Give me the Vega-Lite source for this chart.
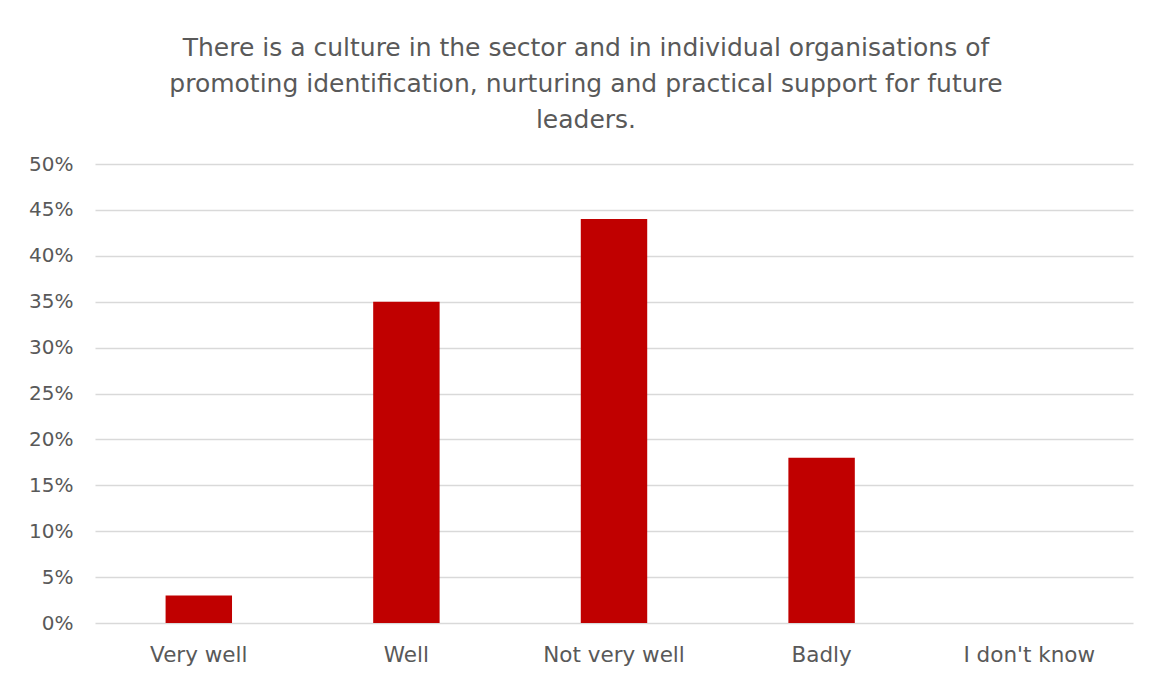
{
  "$schema": "https://vega.github.io/schema/vega-lite/v6.json",
  "width": 1038,
  "height": 459,
  "autosize": {"type": "none"},
  "padding": {"left": 95, "top": 164, "right": 16, "bottom": 54},
  "background": "white",
  "title": {
    "text": ["There is a culture in the sector and in individual organisations of", "promoting identification, nurturing and practical support for future", "leaders."],
    "anchor": "middle",
    "frame": "group",
    "font": "DejaVu Sans",
    "fontSize": 25,
    "fontWeight": "normal",
    "color": "#595959",
    "lineHeight": 36,
    "offset": 21,
    "dx": -28
  },
  "data": {
    "values": [
      {"category": "Very well", "value": 0.03},
      {"category": "Well", "value": 0.35},
      {"category": "Not very well", "value": 0.44},
      {"category": "Badly", "value": 0.18},
      {"category": "I don't know", "value": 0.0}
    ]
  },
  "mark": {"type": "bar", "color": "#C00000"},
  "encoding": {
    "x": {
      "field": "category",
      "type": "nominal",
      "sort": null,
      "scale": {"paddingInner": 0.68, "paddingOuter": 0.34},
      "axis": {
        "title": null,
        "labelAngle": 0,
        "ticks": false,
        "domain": false,
        "labelPadding": 21,
        "labelFont": "DejaVu Sans",
        "labelFontSize": 21.5,
        "labelColor": "#595959"
      }
    },
    "y": {
      "field": "value",
      "type": "quantitative",
      "scale": {"domain": [0, 0.5]},
      "axis": {
        "title": null,
        "format": ".0%",
        "values": [0, 0.05, 0.1, 0.15, 0.2, 0.25, 0.3, 0.35, 0.4, 0.45, 0.5],
        "ticks": false,
        "domain": false,
        "grid": true,
        "gridColor": "#d9d9d9",
        "gridWidth": 1.5,
        "labelPadding": 22,
        "labelFont": "DejaVu Sans",
        "labelFontSize": 20,
        "labelColor": "#595959"
      }
    }
  },
  "config": {"view": {"stroke": null}}
}
